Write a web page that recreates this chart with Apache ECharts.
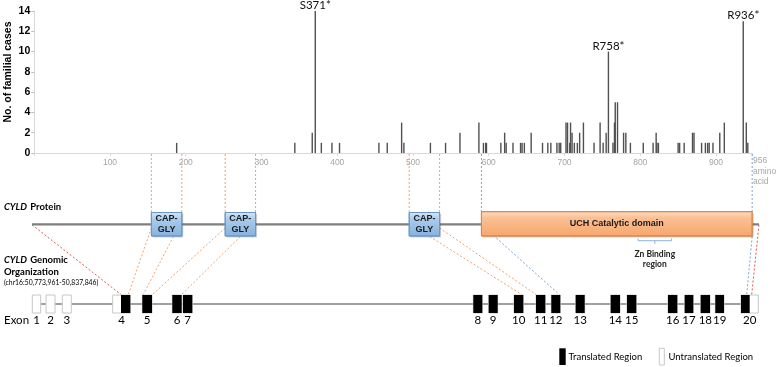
<!DOCTYPE html>
<html><head><meta charset="utf-8">
<script src="https://cdn.jsdelivr.net/npm/echarts@6/dist/echarts.min.js"></script>
<style>html,body{margin:0;padding:0;background:#fff}#c{width:778px;height:367px}</style>
</head><body><div id="c"></div>
<script>
// ---------------- data ----------------
const mutationPositions = [188,344,367,371,379,393,403,455,466,485,488,523,543,562,587,593,596,597,616,621,623,632,642,644,647,656,671,678,682,690,693,695,702,704,707,708,710,713,717,720,725,739,747,751,755,758,764,766,767,770,778,781,787,804,817,821,822,824,850,852,858,869,871,881,886,889,891,896,905,911,936,940,942];
const familialCases = [1,1,2,14,1,1,1,1,1,3,1,1,1,2,3,1,1,1,1,2,1,1,1,1,1,2,1,1,1,1,1,1,3,3,1,3,2,1,1,2,3,1,3,1,2,10,1,3,5,5,2,2,1,1,1,2,1,1,1,1,1,2,2,1,1,1,1,1,2,3,13,3,1];
const mutationLabelPos = [371, 758, 936];
const mutationLabelText = ['S371*', 'R758*', 'R936*'];
const xTickValues = [100,200,300,400,500,600,700,800,900];
const yTickValues = [0,2,4,6,8,10,12,14];
const proteinLength = 956;

// protein domains (amino acids)
const domainNames = ['CAP-\nGLY', 'CAP-\nGLY', 'CAP-\nGLY', 'UCH Catalytic domain'];
const domainStart = [157, 254, 496, 591];
const domainEnd   = [197, 294, 536, 947];
const domainKind  = ['capgly', 'capgly', 'capgly', 'uch'];
const znStart = 797, znEnd = 841;

// genomic organisation (layout units along the gene)
const exonNumbers = [1,2,3,4,5,6,7,8,9,10,11,12,13,14,15,16,17,18,19,20];
const exonStart = [32.3,46,62.3,112.7,142.3,172.3,183,473.3,488.7,514,536,551.3,575.7,610.7,627,668,684.7,700.7,715.3,741];
const exonEnd   = [40.7,55,71.3,130.3,152,181.7,192.3,482.3,497.7,523.3,545.3,560.3,584.7,620,636.3,677.3,693.3,710,724,758.3];
const translatedStart = [null,null,null,121,142.3,172.3,183,473.3,488.7,514,536,551.3,575.7,610.7,627,668,684.7,700.7,715.3,741];
const translatedEnd   = [null,null,null,130.3,152,181.7,192.3,482.3,497.7,523.3,545.3,560.3,584.7,620,636.3,677.3,693.3,710,724,749.7];

// protein -> gene connectors
const connectorAA     = [0, 157, 186, 254, 274, 523, 536, 591, 947, 956];
const connectorAnchor = ['line','side','bottom','side','bottom','bottom','side','line','bottom','line'];
const connectorGene   = [121, 128.3, 143.3, 152.5, 181.7, 521.7, 536, 559.3, 746.7, 751.7];
const connectorColor  = ['red','orange','orange','orange','orange','orange','orange','blue','blue','red'];
const guideAA    = [157,197,254,294,496,536,591,947];
const guideColor = ['orange','orange','orange','orange','orange','orange','blue','blue'];

// ---------------- layout / style ----------------
const COLORS = {orange:'#f2a36c', blue:'#7fa3d4', red:'#e0574f'};
const AXIS_Y = 153, PROT_Y = 224.3, DOM_TOP = 212.5, DOM_BOT = 236, GENE_Y = 304, EX_TOP = 295, EX_BOT = 313;
const ANCHOR_Y = {line: 224.8, side: 228, bottom: 236.5};

const chart = echarts.init(document.getElementById('c'));

const barData = mutationPositions.map((p, i) => {
  const item = {value: [p, familialCases[i]]};
  const k = mutationLabelPos.indexOf(p);
  if (k >= 0) item.label = {show: true, position: 'top', distance: 0, formatter: mutationLabelText[k],
    fontFamily: 'Lato', fontSize: 11.5, lineHeight: 11, color: '#111'};
  return item;
});

const option = {
  animation: false,
  backgroundColor: '#fff',
  grid: [
    {left: 34.25, top: 11, width: 718.1, height: 142},
    {left: 32, top: 0, width: 727, height: 367},
    {left: 0, top: 0, width: 778, height: 367}
  ],
  xAxis: [
    {gridIndex: 0, type: 'value', min: 0, max: 948, interval: 100,
      axisLine: {lineStyle: {color: '#d9d9d9', width: 1}},
      axisTick: {show: true, length: 3, lineStyle: {color: '#d9d9d9'}},
      splitLine: {show: false},
      axisLabel: {color: '#a6a6a6', fontSize: 8.5, fontFamily: 'Liberation Sans', margin: 5,
        formatter: v => xTickValues.indexOf(v) >= 0 ? String(v) : ''}},
    {gridIndex: 1, type: 'value', min: 0, max: proteinLength, show: false},
    {gridIndex: 2, type: 'value', min: 0, max: 778, show: false}
  ],
  yAxis: [
    {gridIndex: 0, type: 'value', min: 0, max: 14, interval: 2,
      axisLine: {show: true, lineStyle: {color: '#d9d9d9'}},
      axisTick: {show: true, length: 3, lineStyle: {color: '#bfbfbf'}},
      splitLine: {show: false},
      axisLabel: {color: '#000', fontWeight: 'bold', fontSize: 10.5, fontFamily: 'Liberation Sans', margin: 4,
        formatter: v => yTickValues.indexOf(v) >= 0 ? String(v) : ''}},
    {gridIndex: 1, type: 'value', min: 0, max: 1, show: false},
    {gridIndex: 2, type: 'value', min: 0, max: 1, show: false}
  ],
  series: [
    {type: 'bar', xAxisIndex: 0, yAxisIndex: 0, barWidth: 1.4, itemStyle: {color: '#505050'}, data: barData},
    // dotted guides from the amino-acid axis to the domains
    {type: 'custom', xAxisIndex: 1, yAxisIndex: 1, z: 1, data: guideAA.map((a, i) => [a, i]),
      renderItem: (params, api) => {
        const x = api.coord([api.value(0), 0])[0];
        const c = COLORS[guideColor[api.value(1)]];
        return {type: 'line', shape: {x1: x, y1: AXIS_Y + 1, x2: x, y2: DOM_TOP},
          style: {stroke: c, lineWidth: 1, lineDash: [2, 2]}};
      }},
    // protein backbone
    {type: 'custom', xAxisIndex: 1, yAxisIndex: 1, z: 2, data: [[0, proteinLength]],
      renderItem: (params, api) => {
        const a = api.coord([api.value(0), 0]), b = api.coord([api.value(1), 0]);
        return {type: 'line', shape: {x1: a[0], y1: PROT_Y, x2: b[0], y2: PROT_Y},
          style: {stroke: '#7f7f7f', lineWidth: 2.2}};
      }},
    // domains
    {type: 'custom', xAxisIndex: 1, yAxisIndex: 1, z: 3, data: domainStart.map((s, i) => [s, domainEnd[i], i]),
      renderItem: (params, api) => {
        const i = api.value(2);
        const a = api.coord([api.value(0), 0])[0], b = api.coord([api.value(1), 0])[0];
        const uch = domainKind[i] === 'uch';
        const top = uch ? DOM_TOP - 0.8 : DOM_TOP;
        const fill = uch
          ? new echarts.graphic.LinearGradient(0, 0, 0, 1, [{offset: 0, color: '#fde0c8'}, {offset: 0.25, color: '#fbc096'}, {offset: 1, color: '#f6a66b'}])
          : new echarts.graphic.LinearGradient(0, 0, 0, 1, [{offset: 0, color: '#d6e7f7'}, {offset: 0.3, color: '#a9cbec'}, {offset: 1, color: '#86b2dd'}]);
        return {type: 'group', children: [
          {type: 'rect', shape: {x: a + 1.5, y: top + 1.5, width: b - a, height: DOM_BOT - top},
            style: {fill: 'rgba(0,0,0,0.18)'}},
          {type: 'rect', shape: {x: a, y: top, width: b - a, height: DOM_BOT - top},
            style: {fill: fill, stroke: uch ? '#d8894f' : '#6b97c6', lineWidth: 1}},
          {type: 'text', x: (a + b) / 2, y: (top + DOM_BOT) / 2,
            style: {text: domainNames[i], align: 'center', verticalAlign: 'middle',
              font: 'bold 9px "Liberation Sans"', fill: '#1a1a1a', lineHeight: 11.5}}
        ]};
      }},
    // Zn binding bracket
    {type: 'custom', xAxisIndex: 1, yAxisIndex: 1, z: 3, data: [[znStart, znEnd]],
      renderItem: (params, api) => {
        const a = api.coord([api.value(0), 0])[0], b = api.coord([api.value(1), 0])[0], m = (a + b) / 2;
        const st = {stroke: '#8db6e0', lineWidth: 1, fill: null};
        return {type: 'group', children: [
          {type: 'polyline', shape: {points: [[a, 238.5], [a, 240.7], [b, 240.7], [b, 238.5]]}, style: st},
          {type: 'line', shape: {x1: m, y1: 240.7, x2: m, y2: 244}, style: st},
          {type: 'text', x: m, y: 254.3, style: {text: 'Zn Binding', align: 'center', verticalAlign: 'middle',
            font: 'bold 8.5px Lato', fill: '#222'}},
          {type: 'text', x: m, y: 264.5, style: {text: 'region', align: 'center', verticalAlign: 'middle',
            font: 'bold 8.5px Lato', fill: '#222'}}
        ]};
      }},
    // gene backbone
    {type: 'custom', xAxisIndex: 2, yAxisIndex: 2, z: 2, data: [[exonStart[0], exonEnd[exonEnd.length - 1]]],
      renderItem: (params, api) => {
        const a = api.coord([api.value(0), 0])[0], b = api.coord([api.value(1), 0])[0];
        return {type: 'line', shape: {x1: a, y1: GENE_Y, x2: b, y2: GENE_Y}, style: {stroke: '#808080', lineWidth: 1.6}};
      }},
    // exons
    {type: 'custom', xAxisIndex: 2, yAxisIndex: 2, z: 3, data: exonNumbers.map((n, i) => [exonStart[i], exonEnd[i], i]),
      renderItem: (params, api) => {
        const i = api.value(2);
        const a = api.coord([api.value(0), 0])[0], b = api.coord([api.value(1), 0])[0];
        const ch = [{type: 'rect', shape: {x: a, y: EX_TOP, width: b - a, height: EX_BOT - EX_TOP},
          style: {fill: '#fff', stroke: '#c8c8c8', lineWidth: 1}}];
        if (translatedStart[i] != null) {
          const ta = api.coord([translatedStart[i], 0])[0], tb = api.coord([translatedEnd[i], 0])[0];
          ch.push({type: 'rect', shape: {x: ta, y: EX_TOP, width: tb - ta, height: EX_BOT - EX_TOP},
            style: {fill: '#000'}});
        }
        ch.push({type: 'text', x: (a + b) / 2, y: 320.5, style: {text: String(exonNumbers[i]), align: 'center',
          verticalAlign: 'middle', font: '11.5px Lato', fill: '#000'}});
        return {type: 'group', children: ch};
      }},
    // connectors (filled in after layout)
    {id: 'connectors', type: 'custom', xAxisIndex: 2, yAxisIndex: 2, z: 1, data: [],
      renderItem: (params, api) => {
        const i = api.value(4);
        const g = api.coord([api.value(2), 0])[0];
        return {type: 'line', shape: {x1: api.value(0), y1: api.value(1), x2: g, y2: EX_TOP - 0.5},
          style: {stroke: COLORS[connectorColor[i]], lineWidth: 1, lineDash: [2, 2]}};
      }}
  ],
  graphic: [
    {type: 'text', x: 8, y: 72, rotation: Math.PI / 2,
      style: {text: 'No. of familial cases', font: 'bold 10.5px "Liberation Sans"', align: 'center', verticalAlign: 'middle', fill: '#000'}},
    {type: 'text', x: 753, y: 161, style: {text: '956', font: '8.5px "Liberation Sans"', fill: '#a6a6a6', verticalAlign: 'middle'}},
    {type: 'text', x: 753, y: 171.5, style: {text: 'amino', font: '8.5px "Liberation Sans"', fill: '#a6a6a6', verticalAlign: 'middle'}},
    {type: 'text', x: 753, y: 182, style: {text: 'acid', font: '8.5px "Liberation Sans"', fill: '#a6a6a6', verticalAlign: 'middle'}},
    {type: 'text', x: 4, y: 206.7, style: {rich: {i: {font: 'italic bold 9.5px Lato', fill: '#000'}, b: {font: 'bold 9.5px Lato', fill: '#000'}},
      text: '{i|CYLD} {b|Protein}', verticalAlign: 'middle'}},
    {type: 'text', x: 4, y: 260, style: {rich: {i: {font: 'italic bold 9.5px Lato', fill: '#000'}, b: {font: 'bold 9.5px Lato', fill: '#000'}},
      text: '{i|CYLD} {b|Genomic}', verticalAlign: 'middle'}},
    {type: 'text', x: 4, y: 271.7, style: {text: 'Organization', font: 'bold 9.5px Lato', fill: '#000', verticalAlign: 'middle'}},
    {type: 'text', x: 4, y: 283.3, style: {text: '(chr16:50,773,961-50,837,846)', font: '6.8px Lato', fill: '#000', verticalAlign: 'middle'}},
    {type: 'text', x: 4, y: 320.5, style: {text: 'Exon', font: '11.5px Lato', fill: '#000', verticalAlign: 'middle'}},
    {type: 'rect', shape: {x: 559.3, y: 348.3, width: 6.4, height: 16.7}, style: {fill: '#000'}},
    {type: 'text', x: 568.5, y: 357, style: {text: 'Translated Region', font: '9.5px Lato', fill: '#000', verticalAlign: 'middle'}},
    {type: 'rect', shape: {x: 659.3, y: 348.3, width: 5, height: 16.7}, style: {fill: '#fff', stroke: '#c8c8c8', lineWidth: 1}},
    {type: 'text', x: 668.5, y: 357, style: {text: 'Untranslated Region', font: '9.5px Lato', fill: '#000', verticalAlign: 'middle'}}
  ]
};
chart.setOption(option);

// second pass: protein end of each connector through the protein scale
const connectorData = connectorAA.map((aa, i) => {
  const px = chart.convertToPixel({xAxisIndex: 1}, aa);
  return [px, ANCHOR_Y[connectorAnchor[i]], connectorGene[i], 0, i];
});
chart.setOption({series: [{id: 'connectors', data: connectorData}]});
</script></body></html>
